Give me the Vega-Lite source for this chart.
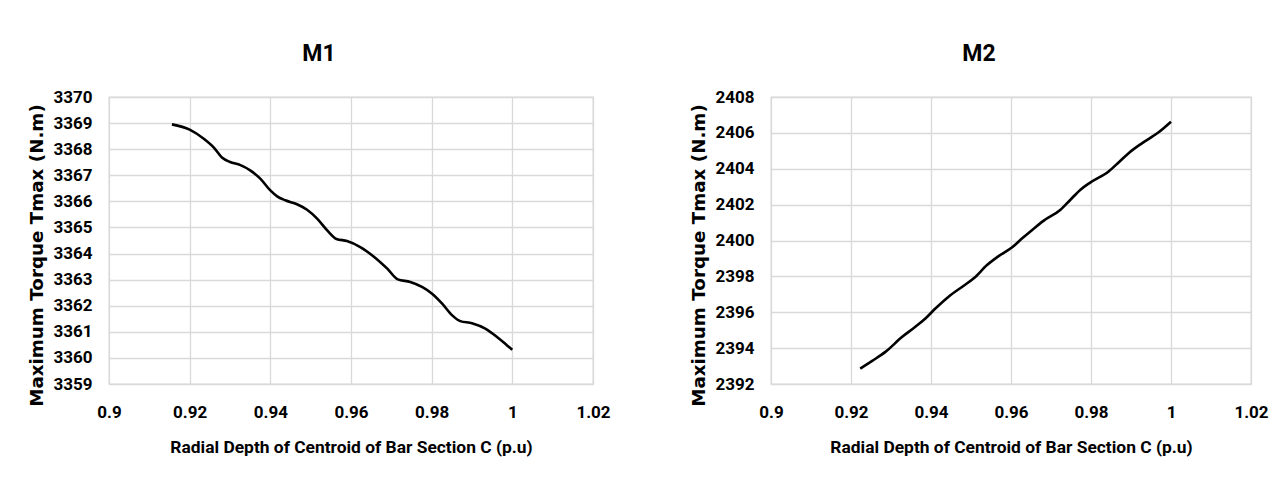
{
  "$schema": "https://vega.github.io/schema/vega-lite/v6.json",
  "background": "white",
  "padding": {"left": 27, "top": 42, "right": 0, "bottom": 0},
  "datasets": {
    "m1": [
      {"c": 0.9156, "t": 3368.95}, {"c": 0.9200, "t": 3368.75}, {"c": 0.9235, "t": 3368.40},
      {"c": 0.9260, "t": 3368.06}, {"c": 0.9280, "t": 3367.68}, {"c": 0.9300, "t": 3367.51},
      {"c": 0.9326, "t": 3367.39}, {"c": 0.9350, "t": 3367.19}, {"c": 0.9375, "t": 3366.87},
      {"c": 0.9400, "t": 3366.42}, {"c": 0.9417, "t": 3366.19}, {"c": 0.9437, "t": 3366.04},
      {"c": 0.9466, "t": 3365.89}, {"c": 0.9491, "t": 3365.68}, {"c": 0.9516, "t": 3365.34},
      {"c": 0.9541, "t": 3364.89}, {"c": 0.9564, "t": 3364.56}, {"c": 0.9590, "t": 3364.48},
      {"c": 0.9623, "t": 3364.25}, {"c": 0.9656, "t": 3363.89}, {"c": 0.9690, "t": 3363.42},
      {"c": 0.9716, "t": 3363.01}, {"c": 0.9747, "t": 3362.91}, {"c": 0.9776, "t": 3362.72},
      {"c": 0.9801, "t": 3362.46}, {"c": 0.9826, "t": 3362.08}, {"c": 0.9851, "t": 3361.63},
      {"c": 0.9871, "t": 3361.41}, {"c": 0.9900, "t": 3361.33}, {"c": 0.9933, "t": 3361.12},
      {"c": 0.9962, "t": 3360.80}, {"c": 0.9987, "t": 3360.48}, {"c": 1.0000, "t": 3360.31}
    ],
    "m2": [
      {"c": 0.9223, "t": 2392.86}, {"c": 0.9253, "t": 2393.29}, {"c": 0.9286, "t": 2393.79},
      {"c": 0.9328, "t": 2394.63}, {"c": 0.9361, "t": 2395.19}, {"c": 0.9386, "t": 2395.65},
      {"c": 0.9411, "t": 2396.21}, {"c": 0.9444, "t": 2396.87}, {"c": 0.9480, "t": 2397.45},
      {"c": 0.9507, "t": 2397.89}, {"c": 0.9540, "t": 2398.63}, {"c": 0.9569, "t": 2399.13},
      {"c": 0.9603, "t": 2399.62}, {"c": 0.9628, "t": 2400.12}, {"c": 0.9653, "t": 2400.59},
      {"c": 0.9682, "t": 2401.11}, {"c": 0.9723, "t": 2401.70}, {"c": 0.9748, "t": 2402.26},
      {"c": 0.9773, "t": 2402.82}, {"c": 0.9798, "t": 2403.23}, {"c": 0.9844, "t": 2403.85},
      {"c": 0.9869, "t": 2404.35}, {"c": 0.9894, "t": 2404.87}, {"c": 0.9928, "t": 2405.43},
      {"c": 0.9969, "t": 2406.03}, {"c": 1.0000, "t": 2406.62}
    ]
  },
  "spacing": 78,
  "hconcat": [
    {
      "title": {"text": "M1"},
      "width": 484,
      "height": 287,
      "data": {"name": "m1"},
      "mark": {"type": "line", "color": "black", "strokeWidth": 2.6, "interpolate": "monotone"},
      "encoding": {
        "x": {"field": "c", "type": "quantitative", "title": "Radial Depth of Centroid of Bar Section C (p.u)",
              "scale": {"domain": [0.9, 1.02], "nice": false, "zero": false},
              "axis": {"values": [0.9, 0.92, 0.94, 0.96, 0.98, 1, 1.02], "format": "~g"}},
        "y": {"field": "t", "type": "quantitative", "title": "Maximum Torque Tmax (N.m)",
              "scale": {"domain": [3359, 3370], "nice": false, "zero": false},
              "axis": {"values": [3359, 3360, 3361, 3362, 3363, 3364, 3365, 3366, 3367, 3368, 3369, 3370], "format": "d"}}
      }
    },
    {
      "title": {"text": "M2"},
      "width": 480,
      "height": 287,
      "data": {"name": "m2"},
      "mark": {"type": "line", "color": "black", "strokeWidth": 2.6, "interpolate": "monotone"},
      "encoding": {
        "x": {"field": "c", "type": "quantitative", "title": "Radial Depth of Centroid of Bar Section C (p.u)",
              "scale": {"domain": [0.9, 1.02], "nice": false, "zero": false},
              "axis": {"values": [0.9, 0.92, 0.94, 0.96, 0.98, 1, 1.02], "format": "~g"}},
        "y": {"field": "t", "type": "quantitative", "title": "Maximum Torque Tmax (N.m)",
              "scale": {"domain": [2392, 2408], "nice": false, "zero": false},
              "axis": {"values": [2392, 2394, 2396, 2398, 2400, 2402, 2404, 2406, 2408], "format": "d"}}
      }
    }
  ],
  "config": {
    "view": {"stroke": "#d9d9d9", "strokeWidth": 1.3},
    "title": {"font": "Roboto", "fontSize": 23, "fontWeight": "bold", "color": "black", "offset": 22, "anchor": "middle", "frame": "bounds"},
    "axis": {
      "domain": false,
      "ticks": false,
      "grid": true,
      "gridColor": "#d9d9d9",
      "gridWidth": 1.3,
      "labelFont": "Roboto",
      "labelFontSize": 17,
      "labelFontWeight": "bold",
      "labelColor": "black",
      "labelFlush": false,
      "labelOverlap": false,
      "titleColor": "black"
    },
    "axisX": {
      "labelPadding": 20,
      "titleFont": "Roboto",
      "titleFontSize": 17.4,
      "titleFontWeight": "bold",
      "titlePadding": 18
    },
    "axisY": {
      "labelPadding": 17,
      "titleFont": "DejaVu Sans",
      "titleFontSize": 18.3,
      "titleFontWeight": "bold",
      "titlePadding": 6,
      "titleY": 158
    }
  }
}
